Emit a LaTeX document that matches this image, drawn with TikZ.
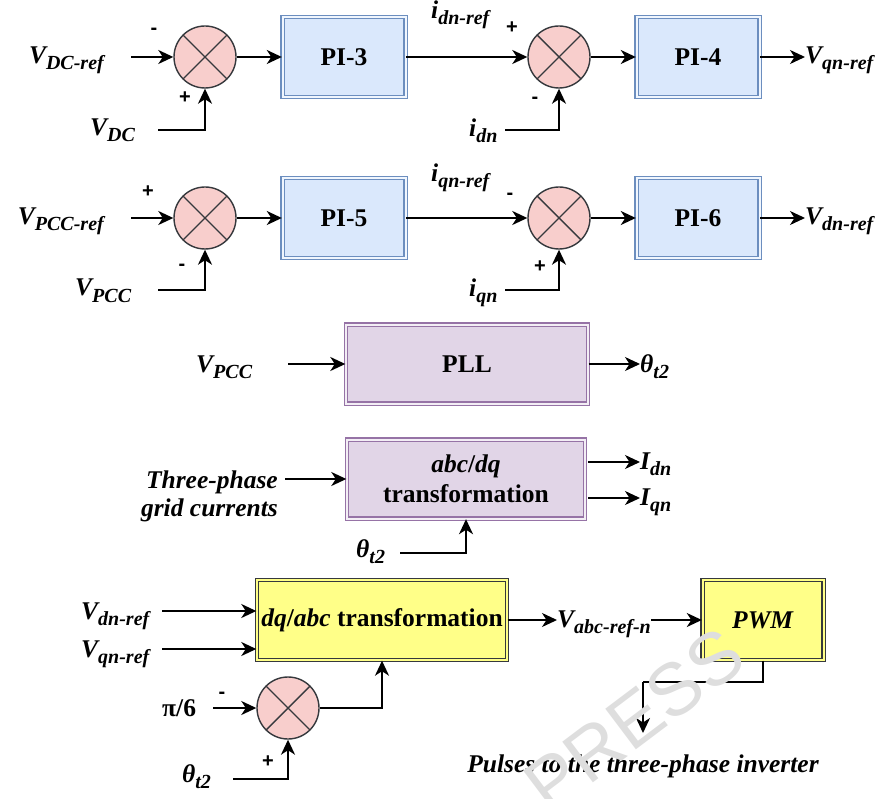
\documentclass[tikz,border=0pt]{standalone}
\usepackage{fontspec}
\setmainfont{Liberation Serif}
\newfontfamily\signfont{Liberation Sans}
\usetikzlibrary{arrows.meta,positioning}

\definecolor{blfill}{HTML}{DAE8FC}
\definecolor{bldraw}{HTML}{6C8EBF}
\definecolor{pufill}{HTML}{E1D5E7}
\definecolor{pudraw}{HTML}{9673A6}
\definecolor{yefill}{HTML}{FFFF88}
\definecolor{yedraw}{HTML}{36393D}
\definecolor{sumfill}{HTML}{F8CECC}
\definecolor{sumdraw}{HTML}{36393D}

\newcommand{\labfont}{\bfseries\itshape\fontsize{25.5}{29}\selectfont}
\newcommand{\boxfont}{\bfseries\fontsize{25.5}{30}\selectfont}
\newcommand{\sgnfont}{\signfont\bfseries\fontsize{20}{20}\selectfont}
\newcommand{\sgl}[2]{#1\raisebox{-6pt}{\fontsize{20}{20}\selectfont #2}}

\tikzset{
	lab/.style={font=\labfont, inner sep=0pt},
	sgn/.style={font=\sgnfont, inner sep=0pt},
	arr/.style={-{Stealth[length=15pt,width=14pt,inset=4.5pt]}, line width=1.8pt},
	sumj/.style={circle, draw=sumdraw, fill=sumfill, line width=1.4pt, minimum size=62pt, inner sep=0pt,
		path picture={\draw[sumdraw, line width=1.4pt] (path picture bounding box.north west) -- (path picture bounding box.south east)
			(path picture bounding box.north east) -- (path picture bounding box.south west);}},
	pibox/.style={draw=bldraw, fill=blfill, double=blfill!40!white, double distance=2pt, line width=1.4pt,
		minimum width=123pt, minimum height=80pt, font=\boxfont, inner sep=0pt},
	plbox/.style={draw=pudraw, fill=pufill, double=pufill!40!white, double distance=2pt, line width=1.4pt,
		minimum height=79pt, font=\boxfont, inner sep=0pt, align=center},
	yebox/.style={draw=yedraw, fill=yefill, double=yefill, double distance=2pt, line width=1.4pt,
		minimum height=80pt, font=\boxfont, inner sep=0pt}
}

\begin{document}
\begin{tikzpicture}[x=1pt,y=-1pt]
	\useasboundingbox (0,0) rectangle (888,799);

	% d-axis loop
	\node[sumj] (s1) at (205,57) {};
	\node[pibox] (pi3) at (344,57) {PI-3};
	\node[sumj] (s2) at (559,57) {};
	\node[pibox] (pi4) at (698,57) {PI-4};

	\node[lab, anchor=base east] (vdcref) at (104,64) {\sgl{V}{DC-ref}};
	\node[lab, anchor=base west] (vdc) at (90,136) {\sgl{V}{DC}};
	\node[lab, anchor=base west] (idnref) at (431,19) {\sgl{i}{dn-ref}};
	\node[lab, anchor=base west] (idn) at (469,137) {\sgl{i}{dn}};
	\node[lab, anchor=base west] (vqnref) at (805,64) {\sgl{V}{qn-ref}};

	\node[sgn] (m1) at (154,31) {-};
	\node[sgn] (p1) at (185,98) {+};
	\node[sgn] (p2) at (512,28) {+};
	\node[sgn] (m2) at (535,100) {-};

	\coordinate (a1) at (131,57);
	\coordinate (b1) at (158,130);
	\coordinate (b2) at (505,130);

	\draw[arr] (a1) -- (s1);
	\draw[arr] (b1) -| (s1.south);
	\draw[arr] (s1) -- (pi3);
	\draw[arr] (pi3) -- (s2);
	\draw[arr] (b2) -| (s2.south);
	\draw[arr] (s2) -- (pi4);
	\draw[arr] (pi4) -- (pi4 -| vqnref.west);

	% q-axis loop
	\node[sumj] (s3) at (205,218) {};
	\node[pibox] (pi5) at (344,218) {PI-5};
	\node[sumj] (s4) at (559,218) {};
	\node[pibox] (pi6) at (698,218) {PI-6};

	\node[lab, anchor=base east] (vpccref) at (104,225) {\sgl{V}{PCC-ref}};
	\node[lab, anchor=base west] (vpcc) at (75,296) {\sgl{V}{PCC}};
	\node[lab, anchor=base west] (iqnref) at (431,182) {\sgl{i}{qn-ref}};
	\node[lab, anchor=base west] (iqn) at (469,297) {\sgl{i}{qn}};
	\node[lab, anchor=base west] (vdnref) at (805,225) {\sgl{V}{dn-ref}};

	\node[sgn] (p3) at (148,192) {+};
	\node[sgn] (m3) at (182,267) {-};
	\node[sgn] (m4) at (510,196) {-};
	\node[sgn] (p4) at (540,267) {+};

	\coordinate (a3) at (131,218);
	\coordinate (b3) at (158,290);
	\coordinate (b4) at (505,290);

	\draw[arr] (a3) -- (s3);
	\draw[arr] (b3) -| (s3.south);
	\draw[arr] (s3) -- (pi5);
	\draw[arr] (pi5) -- (s4);
	\draw[arr] (b4) -| (s4.south);
	\draw[arr] (s4) -- (pi6);
	\draw[arr] (pi6) -- (pi6 -| vdnref.west);

	% PLL
	\node[plbox, minimum width=242pt] (pll) at (467,364) {PLL};
	\node[lab, anchor=base west] (vpccb) at (196,372) {\sgl{V}{PCC}};
	\node[lab, anchor=base west] (th1) at (640,372) {\sgl{θ}{t2}};
	\coordinate (a5) at (288,364);
	\draw[arr] (a5) -- (pll);
	\draw[arr] (pll) -- (pll -| th1.west);

	% abc/dq
	\node[plbox, minimum width=238pt] (abcdq) at (466,479) {\textit{abc}/\textit{dq}\\transformation};
	\node[lab, anchor=base east] (tp1) at (278,488) {Three-phase};
	\node[lab, anchor=base east] (tp2) at (278,516) {grid currents};
	\node[lab, anchor=base west] (idnb) at (640,469) {\sgl{I}{dn}};
	\node[lab, anchor=base west] (iqnb) at (640,505) {\sgl{I}{qn}};
	\node[lab, anchor=base west] (th2) at (356,557) {\sgl{θ}{t2}};
	\coordinate (a6) at (285,479);
	\coordinate (c1) at (588,462);
	\coordinate (c2) at (588,498);
	\coordinate (b6) at (400,553);
	\draw[arr] (a6) -- (abcdq);
	\draw[arr] (c1) -- (c1 -| idnb.west);
	\draw[arr] (c2) -- (c2 -| iqnb.west);
	\draw[arr] (b6) -| (abcdq.south);

	% dq/abc and PWM
	\node[yebox, minimum width=250pt] (dqabc) at (382,620) {\textit{dq}/\textit{abc} transformation};
	\node[yebox, minimum width=121pt] (pwm) at (763,620) {\textit{PWM}};
	\node[sumj] (s5) at (288,708) {};

	\node[lab, anchor=base west] (vdnrefb) at (81,619) {\sgl{V}{dn-ref}};
	\node[lab, anchor=base west] (vqnrefb) at (81,657) {\sgl{V}{qn-ref}};
	\node[lab, anchor=base west, font=\boxfont] (pisix) at (162,716) {π/6};
	\node[lab, anchor=base west] (th3) at (182,782) {\sgl{θ}{t2}};
	\node[lab, anchor=base west] (vabc) at (557,627) {\sgl{V}{abc-ref-n}};
	\node[lab, anchor=base] (pulses) at (643,772) {Pulses to the three-phase inverter};

	\node[sgn] (m5) at (222,695) {-};
	\node[sgn] (p5) at (268,762) {+};

	\coordinate (a7) at (162,611);
	\coordinate (a8) at (162,649);
	\coordinate (a9) at (213,708);
	\coordinate (b9) at (233,779);
	\coordinate (k1) at (643,682);
	\coordinate (k2) at (643,733);

	\draw[arr] (a7) -- (a7 -| dqabc.west);
	\draw[arr] (a8) -- (a8 -| dqabc.west);
	\draw[arr] (a9) -- (s5);
	\draw[arr] (b9) -| (s5.south);
	\draw[arr] (s5) -| (dqabc.south);
	\draw[arr] (dqabc) -- (dqabc -| vabc.west);
	\draw[arr] (vabc.east |- pwm) -- (pwm);
	\draw[line width=1.4pt] (pwm.south) |- (k1);
	\draw[arr] (k1) -- (k2);

	\node[font=\signfont\fontsize{74}{74}\selectfont, text=black!13, rotate=37] (wm) at (634,720) {PRESS};
\end{tikzpicture}
\end{document}
